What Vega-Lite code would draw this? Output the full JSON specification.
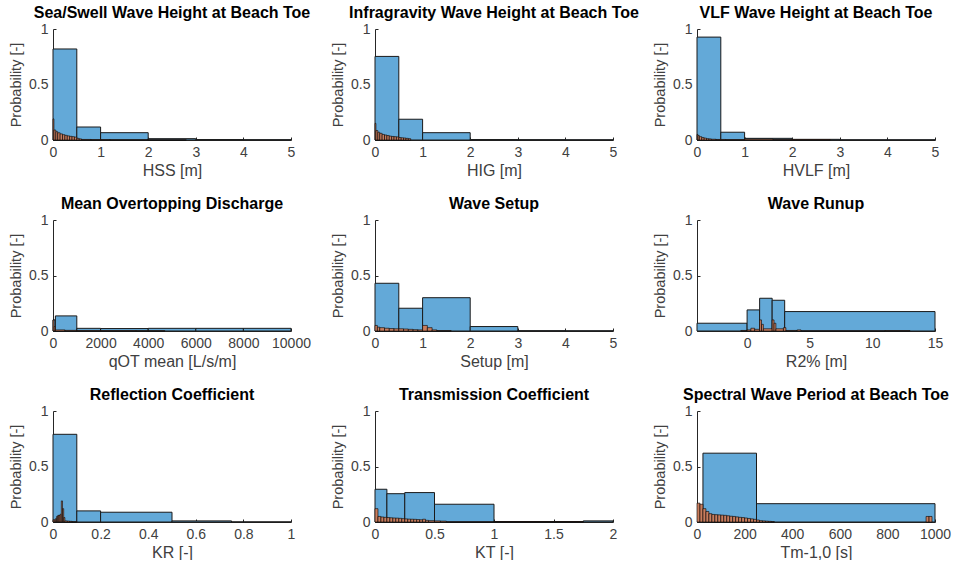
{
  "$schema": "https://vega.github.io/schema/vega-lite/v6.json",
  "background": "white",
  "padding": {"left": 8, "top": 5, "right": 5, "bottom": 0},
  "bounds": "flush",
  "columns": 3,
  "spacing": {"row": 80, "column": 84},
  "config": {
    "view": {"stroke": null},
    "font": "Liberation Sans",
    "axis": {"grid": false, "domainColor": "#262626", "tickColor": "#262626", "labelColor": "#404040", "titleColor": "#404040", "labelFontSize": 14, "titleFontSize": 15, "titleFontWeight": "normal", "labelFont": "Liberation Sans", "titleFont": "Liberation Sans", "tickSize": -3, "labelPadding": 8, "domainWidth": 1, "labelFlush": false, "format": "~r"},
    "axisX": {"titlePadding": 3, "titleFontSize": 16},
    "axisY": {"titlePadding": 5, "titleFontSize": 14.5},
    "title": {"fontSize": 16, "fontWeight": "bold", "font": "Liberation Sans", "color": "#000000"}
  },
  "datasets": {
    "hss_c": [{"x0":0,"x1":0.5,"p":0.82},{"x0":0.5,"x1":1,"p":0.117},{"x0":1,"x1":2,"p":0.066},{"x0":2,"x1":3,"p":0.012},{"x0":3,"x1":4,"p":0.004},{"x0":4,"x1":5,"p":0.003}],
    "hss_f": [{"x0":0,"x1":0.02,"p":0.19},{"x0":0.02,"x1":0.06,"p":0.09},{"x0":0.06,"x1":0.1,"p":0.075},{"x0":0.1,"x1":0.15,"p":0.065},{"x0":0.15,"x1":0.2,"p":0.055},{"x0":0.2,"x1":0.25,"p":0.048},{"x0":0.25,"x1":0.3,"p":0.042},{"x0":0.3,"x1":0.35,"p":0.037},{"x0":0.35,"x1":0.4,"p":0.033},{"x0":0.4,"x1":0.45,"p":0.03},{"x0":0.45,"x1":0.5,"p":0.026},{"x0":0.5,"x1":0.55,"p":0.015},{"x0":0.55,"x1":0.6,"p":0.01},{"x0":0.6,"x1":0.8,"p":0.005},{"x0":0.8,"x1":1.2,"p":0.004},{"x0":1.2,"x1":2,"p":0.003},{"x0":2,"x1":2.8,"p":0.002}],
    "hig_c": [{"x0":0,"x1":0.5,"p":0.753},{"x0":0.5,"x1":1,"p":0.187},{"x0":1,"x1":2,"p":0.066},{"x0":2,"x1":3,"p":0.004},{"x0":3,"x1":4,"p":0.003},{"x0":4,"x1":5,"p":0.002}],
    "hig_f": [{"x0":0,"x1":0.02,"p":0.15},{"x0":0.02,"x1":0.06,"p":0.085},{"x0":0.06,"x1":0.1,"p":0.07},{"x0":0.1,"x1":0.15,"p":0.06},{"x0":0.15,"x1":0.2,"p":0.05},{"x0":0.2,"x1":0.25,"p":0.045},{"x0":0.25,"x1":0.3,"p":0.04},{"x0":0.3,"x1":0.35,"p":0.035},{"x0":0.35,"x1":0.4,"p":0.032},{"x0":0.4,"x1":0.45,"p":0.03},{"x0":0.45,"x1":0.5,"p":0.028},{"x0":0.5,"x1":0.55,"p":0.022},{"x0":0.55,"x1":0.6,"p":0.02},{"x0":0.6,"x1":0.65,"p":0.018},{"x0":0.65,"x1":0.7,"p":0.015},{"x0":0.7,"x1":0.75,"p":0.012}],
    "vlf_c": [{"x0":0,"x1":0.5,"p":0.927},{"x0":0.5,"x1":1,"p":0.07},{"x0":1,"x1":2,"p":0.015},{"x0":2,"x1":3,"p":0.006},{"x0":3,"x1":4,"p":0.002},{"x0":4,"x1":5,"p":0.002}],
    "vlf_f": [{"x0":0,"x1":0.02,"p":0.05},{"x0":0.02,"x1":0.05,"p":0.04},{"x0":0.05,"x1":0.1,"p":0.03},{"x0":0.1,"x1":0.15,"p":0.022},{"x0":0.15,"x1":0.2,"p":0.017},{"x0":0.2,"x1":0.25,"p":0.012},{"x0":0.25,"x1":0.3,"p":0.01},{"x0":0.3,"x1":0.4,"p":0.007},{"x0":0.4,"x1":0.6,"p":0.005},{"x0":0.6,"x1":1,"p":0.004},{"x0":1,"x1":1.6,"p":0.008},{"x0":1.6,"x1":2.8,"p":0.004}],
    "q_c": [{"x0":0,"x1":100,"p":0.1},{"x0":100,"x1":1000,"p":0.136},{"x0":1000,"x1":2000,"p":0.024},{"x0":2000,"x1":4000,"p":0.022},{"x0":4000,"x1":6000,"p":0.024},{"x0":6000,"x1":8000,"p":0.024},{"x0":8000,"x1":10000,"p":0.024}],
    "q_f": [{"x0":0,"x1":50,"p":0.1},{"x0":50,"x1":100,"p":0.04},{"x0":100,"x1":500,"p":0.01},{"x0":500,"x1":1000,"p":0.006},{"x0":1000,"x1":2000,"p":0.005},{"x0":2000,"x1":3500,"p":0.004},{"x0":3500,"x1":4700,"p":0.003}],
    "setup_c": [{"x0":0,"x1":0.5,"p":0.43},{"x0":0.5,"x1":1,"p":0.205},{"x0":1,"x1":2,"p":0.3},{"x0":2,"x1":3,"p":0.04},{"x0":3,"x1":4,"p":0.003},{"x0":4,"x1":5,"p":0.002}],
    "setup_f": [{"x0":0,"x1":0.05,"p":0.05},{"x0":0.05,"x1":0.1,"p":0.035},{"x0":0.1,"x1":0.2,"p":0.03},{"x0":0.2,"x1":0.3,"p":0.025},{"x0":0.3,"x1":0.4,"p":0.022},{"x0":0.4,"x1":0.5,"p":0.02},{"x0":0.5,"x1":0.6,"p":0.02},{"x0":0.6,"x1":0.7,"p":0.018},{"x0":0.7,"x1":0.8,"p":0.015},{"x0":0.8,"x1":0.9,"p":0.012},{"x0":0.9,"x1":1,"p":0.01},{"x0":1,"x1":1.1,"p":0.05},{"x0":1.1,"x1":1.2,"p":0.03},{"x0":1.2,"x1":1.3,"p":0.01},{"x0":1.3,"x1":1.6,"p":0.004}],
    "runup_c": [{"x0":-4,"x1":0,"p":0.07},{"x0":0,"x1":1,"p":0.19},{"x0":1,"x1":2,"p":0.295},{"x0":2,"x1":3,"p":0.277},{"x0":3,"x1":15,"p":0.175}],
    "runup_f": [{"x0":-0.5,"x1":0,"p":0.005},{"x0":0,"x1":0.3,"p":0.01},{"x0":0.3,"x1":0.6,"p":0.025},{"x0":0.6,"x1":1,"p":0.015},{"x0":1,"x1":1.15,"p":0.1},{"x0":1.15,"x1":1.3,"p":0.06},{"x0":1.3,"x1":2,"p":0.02},{"x0":2,"x1":2.15,"p":0.1},{"x0":2.15,"x1":2.3,"p":0.07},{"x0":2.3,"x1":2.9,"p":0.02},{"x0":2.9,"x1":3.1,"p":0.03},{"x0":3.1,"x1":4,"p":0.005},{"x0":4,"x1":4.3,"p":0.01},{"x0":4.3,"x1":11,"p":0.002},{"x0":11,"x1":13,"p":0.004}],
    "kr_c": [{"x0":0,"x1":0.1,"p":0.79},{"x0":0.1,"x1":0.2,"p":0.1},{"x0":0.2,"x1":0.5,"p":0.088},{"x0":0.5,"x1":0.75,"p":0.01},{"x0":0.75,"x1":1,"p":0.001}],
    "kr_f": [{"x0":0,"x1":0.005,"p":0.02},{"x0":0.005,"x1":0.01,"p":0.02},{"x0":0.01,"x1":0.015,"p":0.03},{"x0":0.015,"x1":0.02,"p":0.05},{"x0":0.02,"x1":0.025,"p":0.06},{"x0":0.025,"x1":0.03,"p":0.06},{"x0":0.03,"x1":0.035,"p":0.07},{"x0":0.035,"x1":0.04,"p":0.19},{"x0":0.04,"x1":0.045,"p":0.12},{"x0":0.045,"x1":0.05,"p":0.04},{"x0":0.05,"x1":0.06,"p":0.01},{"x0":0.06,"x1":0.07,"p":0.008},{"x0":0.07,"x1":0.08,"p":0.006},{"x0":0.08,"x1":0.1,"p":0.003}],
    "kt_c": [{"x0":0,"x1":0.1,"p":0.295},{"x0":0.1,"x1":0.25,"p":0.255},{"x0":0.25,"x1":0.5,"p":0.265},{"x0":0.5,"x1":1,"p":0.16},{"x0":1,"x1":1.75,"p":0.004},{"x0":1.75,"x1":2,"p":0.01}],
    "kt_f": [{"x0":0,"x1":0.025,"p":0.12},{"x0":0.025,"x1":0.05,"p":0.05},{"x0":0.05,"x1":0.075,"p":0.045},{"x0":0.075,"x1":0.1,"p":0.042},{"x0":0.1,"x1":0.125,"p":0.04},{"x0":0.125,"x1":0.15,"p":0.038},{"x0":0.15,"x1":0.175,"p":0.036},{"x0":0.175,"x1":0.2,"p":0.035},{"x0":0.2,"x1":0.225,"p":0.033},{"x0":0.225,"x1":0.25,"p":0.03},{"x0":0.25,"x1":0.275,"p":0.028},{"x0":0.275,"x1":0.3,"p":0.026},{"x0":0.3,"x1":0.325,"p":0.025},{"x0":0.325,"x1":0.35,"p":0.024},{"x0":0.35,"x1":0.375,"p":0.022},{"x0":0.375,"x1":0.4,"p":0.02},{"x0":0.4,"x1":0.425,"p":0.025},{"x0":0.425,"x1":0.45,"p":0.015},{"x0":0.45,"x1":0.5,"p":0.012},{"x0":0.5,"x1":0.55,"p":0.01},{"x0":0.55,"x1":0.6,"p":0.008},{"x0":0.6,"x1":1,"p":0.002},{"x0":1,"x1":1.75,"p":0.003}],
    "tm_c": [{"x0":25,"x1":250,"p":0.62},{"x0":250,"x1":1000,"p":0.165}],
    "tm_f": [{"x0":0,"x1":12.5,"p":0.17},{"x0":12.5,"x1":25,"p":0.16},{"x0":25,"x1":37.5,"p":0.12},{"x0":37.5,"x1":50,"p":0.095},{"x0":50,"x1":62.5,"p":0.075},{"x0":62.5,"x1":75,"p":0.068},{"x0":75,"x1":87.5,"p":0.066},{"x0":87.5,"x1":100,"p":0.064},{"x0":100,"x1":112.5,"p":0.062},{"x0":112.5,"x1":125,"p":0.06},{"x0":125,"x1":137.5,"p":0.056},{"x0":137.5,"x1":150,"p":0.052},{"x0":150,"x1":162.5,"p":0.05},{"x0":162.5,"x1":175,"p":0.046},{"x0":175,"x1":187.5,"p":0.042},{"x0":187.5,"x1":200,"p":0.04},{"x0":200,"x1":212.5,"p":0.036},{"x0":212.5,"x1":225,"p":0.032},{"x0":225,"x1":237.5,"p":0.028},{"x0":237.5,"x1":250,"p":0.024},{"x0":250,"x1":262.5,"p":0.018},{"x0":262.5,"x1":275,"p":0.012},{"x0":275,"x1":287.5,"p":0.01},{"x0":287.5,"x1":300,"p":0.008},{"x0":300,"x1":312.5,"p":0.006},{"x0":312.5,"x1":325,"p":0.004},{"x0":962.5,"x1":975,"p":0.05},{"x0":975,"x1":987.5,"p":0.05}]
  },
  "concat": [
    {"width": 238, "height": 111, "title": {"text": "Sea/Swell Wave Height at Beach Toe", "offset": 1}, "layer": [
      {"data": {"name": "hss_c"}, "mark": {"type": "rect", "fill": "#63A9D8", "stroke": "#1a1a1a", "strokeWidth": 1},
       "encoding": {"x": {"field": "x0", "type": "quantitative", "scale": {"domain": [0, 5]}, "axis": {"values": [0,1,2,3,4,5], "title": "HSS [m]"}}, "x2": {"field": "x1"},
                    "y": {"field": "p", "type": "quantitative", "scale": {"domain": [0, 1]}, "axis": {"values": [0,0.5,1], "title": "Probability [-]"}}, "y2": {"datum": 0}}},
      {"data": {"name": "hss_f"}, "mark": {"type": "rect", "fill": "#C97D5D", "stroke": "#000000", "strokeWidth": 0.6},
       "encoding": {"x": {"field": "x0", "type": "quantitative"}, "x2": {"field": "x1"}, "y": {"field": "p", "type": "quantitative"}, "y2": {"datum": 0}}}
    ]},
    {"width": 238, "height": 111, "title": {"text": "Infragravity Wave Height at Beach Toe", "offset": 1}, "layer": [
      {"data": {"name": "hig_c"}, "mark": {"type": "rect", "fill": "#63A9D8", "stroke": "#1a1a1a", "strokeWidth": 1},
       "encoding": {"x": {"field": "x0", "type": "quantitative", "scale": {"domain": [0, 5]}, "axis": {"values": [0,1,2,3,4,5], "title": "HIG [m]"}}, "x2": {"field": "x1"},
                    "y": {"field": "p", "type": "quantitative", "scale": {"domain": [0, 1]}, "axis": {"values": [0,0.5,1], "title": "Probability [-]"}}, "y2": {"datum": 0}}},
      {"data": {"name": "hig_f"}, "mark": {"type": "rect", "fill": "#C97D5D", "stroke": "#000000", "strokeWidth": 0.6},
       "encoding": {"x": {"field": "x0", "type": "quantitative"}, "x2": {"field": "x1"}, "y": {"field": "p", "type": "quantitative"}, "y2": {"datum": 0}}}
    ]},
    {"width": 238, "height": 111, "title": {"text": "VLF Wave Height at Beach Toe", "offset": 1}, "layer": [
      {"data": {"name": "vlf_c"}, "mark": {"type": "rect", "fill": "#63A9D8", "stroke": "#1a1a1a", "strokeWidth": 1},
       "encoding": {"x": {"field": "x0", "type": "quantitative", "scale": {"domain": [0, 5]}, "axis": {"values": [0,1,2,3,4,5], "title": "HVLF [m]"}}, "x2": {"field": "x1"},
                    "y": {"field": "p", "type": "quantitative", "scale": {"domain": [0, 1]}, "axis": {"values": [0,0.5,1], "title": "Probability [-]"}}, "y2": {"datum": 0}}},
      {"data": {"name": "vlf_f"}, "mark": {"type": "rect", "fill": "#C97D5D", "stroke": "#000000", "strokeWidth": 0.6},
       "encoding": {"x": {"field": "x0", "type": "quantitative"}, "x2": {"field": "x1"}, "y": {"field": "p", "type": "quantitative"}, "y2": {"datum": 0}}}
    ]},
    {"width": 238, "height": 111, "title": {"text": "Mean Overtopping Discharge", "offset": 1}, "layer": [
      {"data": {"name": "q_c"}, "mark": {"type": "rect", "fill": "#63A9D8", "stroke": "#1a1a1a", "strokeWidth": 1},
       "encoding": {"x": {"field": "x0", "type": "quantitative", "scale": {"domain": [0, 10000]}, "axis": {"values": [0,2000,4000,6000,8000,10000], "title": "qOT mean [L/s/m]"}}, "x2": {"field": "x1"},
                    "y": {"field": "p", "type": "quantitative", "scale": {"domain": [0, 1]}, "axis": {"values": [0,0.5,1], "title": "Probability [-]"}}, "y2": {"datum": 0}}},
      {"data": {"name": "q_f"}, "mark": {"type": "rect", "fill": "#C97D5D", "stroke": "#000000", "strokeWidth": 0.6},
       "encoding": {"x": {"field": "x0", "type": "quantitative"}, "x2": {"field": "x1"}, "y": {"field": "p", "type": "quantitative"}, "y2": {"datum": 0}}}
    ]},
    {"width": 238, "height": 111, "title": {"text": "Wave Setup", "offset": 1}, "layer": [
      {"data": {"name": "setup_c"}, "mark": {"type": "rect", "fill": "#63A9D8", "stroke": "#1a1a1a", "strokeWidth": 1},
       "encoding": {"x": {"field": "x0", "type": "quantitative", "scale": {"domain": [0, 5]}, "axis": {"values": [0,1,2,3,4,5], "title": "Setup [m]"}}, "x2": {"field": "x1"},
                    "y": {"field": "p", "type": "quantitative", "scale": {"domain": [0, 1]}, "axis": {"values": [0,0.5,1], "title": "Probability [-]"}}, "y2": {"datum": 0}}},
      {"data": {"name": "setup_f"}, "mark": {"type": "rect", "fill": "#C97D5D", "stroke": "#000000", "strokeWidth": 0.6},
       "encoding": {"x": {"field": "x0", "type": "quantitative"}, "x2": {"field": "x1"}, "y": {"field": "p", "type": "quantitative"}, "y2": {"datum": 0}}}
    ]},
    {"width": 238, "height": 111, "title": {"text": "Wave Runup", "offset": 1}, "layer": [
      {"data": {"name": "runup_c"}, "mark": {"type": "rect", "fill": "#63A9D8", "stroke": "#1a1a1a", "strokeWidth": 1},
       "encoding": {"x": {"field": "x0", "type": "quantitative", "scale": {"domain": [-4, 15], "nice": false, "zero": false}, "axis": {"values": [0,5,10,15], "title": "R2% [m]"}}, "x2": {"field": "x1"},
                    "y": {"field": "p", "type": "quantitative", "scale": {"domain": [0, 1]}, "axis": {"values": [0,0.5,1], "title": "Probability [-]"}}, "y2": {"datum": 0}}},
      {"data": {"name": "runup_f"}, "mark": {"type": "rect", "fill": "#C97D5D", "stroke": "#000000", "strokeWidth": 0.6},
       "encoding": {"x": {"field": "x0", "type": "quantitative"}, "x2": {"field": "x1"}, "y": {"field": "p", "type": "quantitative"}, "y2": {"datum": 0}}}
    ]},
    {"width": 238, "height": 111, "title": {"text": "Reflection Coefficient", "offset": 1}, "layer": [
      {"data": {"name": "kr_c"}, "mark": {"type": "rect", "fill": "#63A9D8", "stroke": "#1a1a1a", "strokeWidth": 1},
       "encoding": {"x": {"field": "x0", "type": "quantitative", "scale": {"domain": [0, 1]}, "axis": {"values": [0,0.2,0.4,0.6,0.8,1], "title": "KR [-]"}}, "x2": {"field": "x1"},
                    "y": {"field": "p", "type": "quantitative", "scale": {"domain": [0, 1]}, "axis": {"values": [0,0.5,1], "title": "Probability [-]"}}, "y2": {"datum": 0}}},
      {"data": {"name": "kr_f"}, "mark": {"type": "rect", "fill": "#C97D5D", "stroke": "#000000", "strokeWidth": 0.6},
       "encoding": {"x": {"field": "x0", "type": "quantitative"}, "x2": {"field": "x1"}, "y": {"field": "p", "type": "quantitative"}, "y2": {"datum": 0}}}
    ]},
    {"width": 238, "height": 111, "title": {"text": "Transmission Coefficient", "offset": 1}, "layer": [
      {"data": {"name": "kt_c"}, "mark": {"type": "rect", "fill": "#63A9D8", "stroke": "#1a1a1a", "strokeWidth": 1},
       "encoding": {"x": {"field": "x0", "type": "quantitative", "scale": {"domain": [0, 2]}, "axis": {"values": [0,0.5,1,1.5,2], "title": "KT [-]"}}, "x2": {"field": "x1"},
                    "y": {"field": "p", "type": "quantitative", "scale": {"domain": [0, 1]}, "axis": {"values": [0,0.5,1], "title": "Probability [-]"}}, "y2": {"datum": 0}}},
      {"data": {"name": "kt_f"}, "mark": {"type": "rect", "fill": "#C97D5D", "stroke": "#000000", "strokeWidth": 0.6},
       "encoding": {"x": {"field": "x0", "type": "quantitative"}, "x2": {"field": "x1"}, "y": {"field": "p", "type": "quantitative"}, "y2": {"datum": 0}}}
    ]},
    {"width": 238, "height": 111, "title": {"text": "Spectral Wave Period at Beach Toe", "offset": 1}, "layer": [
      {"data": {"name": "tm_c"}, "mark": {"type": "rect", "fill": "#63A9D8", "stroke": "#1a1a1a", "strokeWidth": 1},
       "encoding": {"x": {"field": "x0", "type": "quantitative", "scale": {"domain": [0, 1000]}, "axis": {"values": [0,200,400,600,800,1000], "title": "Tm-1,0 [s]"}}, "x2": {"field": "x1"},
                    "y": {"field": "p", "type": "quantitative", "scale": {"domain": [0, 1]}, "axis": {"values": [0,0.5,1], "title": "Probability [-]"}}, "y2": {"datum": 0}}},
      {"data": {"name": "tm_f"}, "mark": {"type": "rect", "fill": "#C97D5D", "stroke": "#000000", "strokeWidth": 0.6},
       "encoding": {"x": {"field": "x0", "type": "quantitative"}, "x2": {"field": "x1"}, "y": {"field": "p", "type": "quantitative"}, "y2": {"datum": 0}}}
    ]}
  ]
}
